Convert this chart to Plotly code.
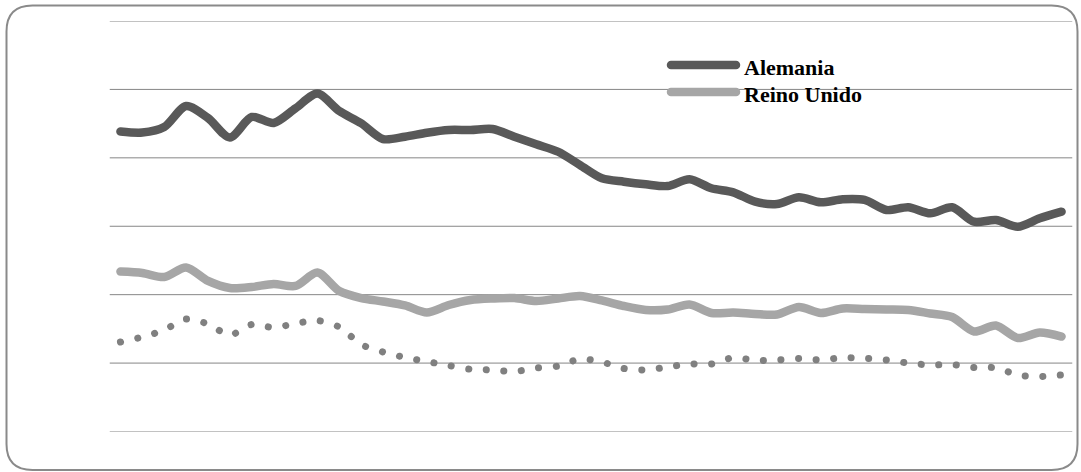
import plotly.graph_objects as go

# 44 consecutive yearly observations
years = list(range(1960, 2004))

alemania = [43.85, 43.70, 44.50, 47.57, 45.82, 42.97, 45.97, 45.09, 47.24, 49.40,
            46.84, 45.05, 42.75, 43.09, 43.67, 44.07, 44.07, 44.21, 43.09, 41.98,
            40.89, 38.95, 37.01, 36.51, 36.13, 35.88, 36.86, 35.55, 34.96, 33.59,
            33.25, 34.23, 33.50, 33.94, 33.84, 32.37, 32.77, 31.89, 32.77, 30.66,
            30.91, 29.93, 31.16, 32.13]

reino_unido = [23.38, 23.17, 22.58, 23.97, 22.00, 20.97, 21.12, 21.56, 21.27, 23.24,
               20.53, 19.51, 19.00, 18.42, 17.39, 18.49, 19.22, 19.44, 19.51, 19.07,
               19.44, 19.80, 19.15, 18.34, 17.76, 17.83, 18.56, 17.32, 17.39, 17.17,
               17.10, 18.20, 17.32, 17.98, 17.90, 17.83, 17.76, 17.25, 16.73, 14.62,
               15.49, 13.67, 14.47, 13.88]

tercera_serie = [13.08, 13.81, 14.84, 16.44, 15.71, 14.10, 15.64, 15.20, 15.78, 16.22,
                 15.27, 12.72, 11.62, 10.82, 10.23, 9.65, 9.09, 8.99, 8.77, 9.28,
                 9.57, 10.60, 10.16, 9.21, 8.99, 9.43, 9.87, 9.87, 10.79, 10.41,
                 10.45, 10.67, 10.45, 10.79, 10.70, 10.45, 10.01, 9.72, 9.79, 9.35,
                 9.32, 8.26, 8.04, 8.26]

grid_values = [0, 10, 20, 30, 40, 50, 60]
legend_names = ["Alemania", "Reino Unido"]

W, H = 1081, 472
DARK = "#595959"
LIGHT = "#a6a6a6"
DOT = "#808080"
GRID = "#868686"


def px_x(x):
    return x / W


def px_y(y):
    return 1 - y / H


x_idx = list(range(len(years)))

fig = go.Figure()
fig.add_trace(go.Scatter(x=x_idx, y=tercera_serie, mode="lines", name="Serie 3",
                         line=dict(color=DOT, width=7, dash="0.1px,17.5px",
                                   shape="spline", smoothing=0.8),
                         showlegend=False, hoverinfo="skip"))
fig.add_trace(go.Scatter(x=x_idx, y=reino_unido, mode="lines", name=legend_names[1],
                         line=dict(color=LIGHT, width=8.5, shape="spline", smoothing=0.8),
                         showlegend=False, hoverinfo="skip"))
fig.add_trace(go.Scatter(x=x_idx, y=alemania, mode="lines", name=legend_names[0],
                         line=dict(color=DARK, width=8.5, shape="spline", smoothing=0.8),
                         showlegend=False, hoverinfo="skip"))

shapes = []
# horizontal gridlines
for g in grid_values:
    shapes.append(dict(type="line", xref="x", yref="y", x0=-0.5, x1=len(years) - 0.5,
                       y0=g, y1=g, line=dict(color=GRID, width=1), layer="below"))

# rounded outer frame
x0, y0, x1, y1, r = 6.5, 5.5, 1077.5, 470, 26
frame = (f"M {px_x(x0 + r)},{px_y(y0)} L {px_x(x1 - r)},{px_y(y0)} "
         f"Q {px_x(x1)},{px_y(y0)} {px_x(x1)},{px_y(y0 + r)} "
         f"L {px_x(x1)},{px_y(y1 - r)} Q {px_x(x1)},{px_y(y1)} {px_x(x1 - r)},{px_y(y1)} "
         f"L {px_x(x0 + r)},{px_y(y1)} Q {px_x(x0)},{px_y(y1)} {px_x(x0)},{px_y(y1 - r)} "
         f"L {px_x(x0)},{px_y(y0 + r)} Q {px_x(x0)},{px_y(y0)} {px_x(x0 + r)},{px_y(y0)} Z")
shapes.append(dict(type="path", xref="paper", yref="paper", path=frame,
                   line=dict(color="#8a8a8a", width=2), fillcolor="rgba(0,0,0,0)"))

# legend samples and labels
annotations = []
for name, color, ly in [(legend_names[0], DARK, 65), (legend_names[1], LIGHT, 92)]:
    shapes.append(dict(type="line", xref="paper", yref="paper",
                       x0=px_x(671), x1=px_x(736), y0=px_y(ly), y1=px_y(ly),
                       line=dict(color=color, width=8.5)))
    annotations.append(dict(xref="paper", yref="paper", x=px_x(742), y=px_y(ly + 2.5),
                            xanchor="left", yanchor="middle", showarrow=False,
                            text=f"<b>{name}</b>",
                            font=dict(family="Liberation Serif, Times New Roman, serif",
                                      size=22, color="black")))

fig.update_layout(
    width=W, height=H,
    margin=dict(l=0, r=0, t=0, b=0),
    paper_bgcolor="white", plot_bgcolor="rgba(0,0,0,0)",
    xaxis=dict(domain=[px_x(109.5), px_x(1072.5)], range=[-0.5, len(years) - 0.5],
               visible=False, fixedrange=True),
    yaxis=dict(domain=[px_y(431.5), px_y(21)], range=[grid_values[0], grid_values[-1]],
               visible=False, fixedrange=True),
    shapes=shapes, annotations=annotations, showlegend=False,
)

round_caps = """
var gd = document.getElementById('{plot_id}');
function roundCaps() {
  gd.querySelectorAll('.scatterlayer .js-line').forEach(function(p) {
    p.style.strokeLinecap = 'round';
    p.style.strokeLinejoin = 'round';
  });
  gd.querySelectorAll('.shapelayer path').forEach(function(p) {
    if (parseFloat(p.style.strokeWidth) > 4) { p.style.strokeLinecap = 'round'; }
  });
}
roundCaps();
gd.on('plotly_afterplot', roundCaps);
"""

fig.write_html("out.html", config={"staticPlot": True}, post_script=round_caps)
